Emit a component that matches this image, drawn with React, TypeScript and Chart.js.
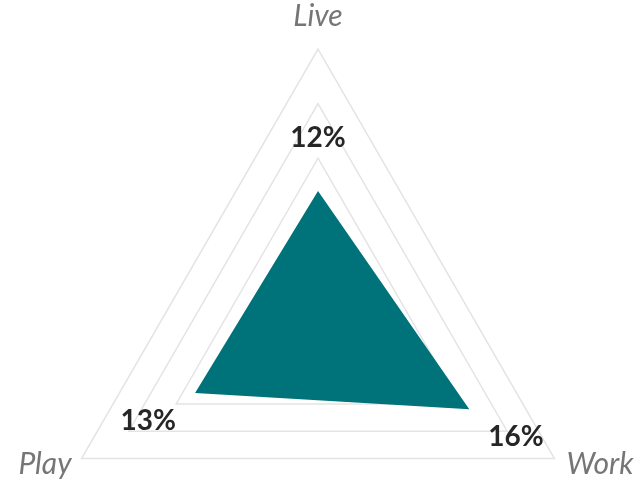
import { useEffect, useRef } from 'react';
import { Chart, registerables } from 'chart.js';

Chart.register(...registerables);

// axes go clockwise from the top
const categories = ['Live', 'Work', 'Play'];
const shares = [12, 16, 13];
const scaleMax = 25;
const scaleStep = 5;

const FILL = '#00737a';
const GRID = '#e4e4e4';

// draws the % labels past each point and the axis names past each corner
const radarLabels = {
    id: 'radarLabels',
    afterDatasetsDraw(chart: any) {
        const scale = chart.scales.r;
        const ctx = chart.ctx as CanvasRenderingContext2D;
        ctx.save();

        ctx.font = 'bold 28px Lato';
        ctx.fillStyle = '#262626';
        ctx.textAlign = 'center';
        ctx.textBaseline = 'alphabetic';
        shares.forEach((v, i) => {
            const p = scale.getPointPosition(i, scale.getDistanceFromCenterForValue(v) + 54);
            ctx.fillText(`${v}%`, p.x, p.y + 10);
        });

        ctx.font = 'italic 30px Lato';
        ctx.fillStyle = '#767676';
        const offsets = [
            { dx: 0, dy: -23, align: 'center' },
            { dx: 12, dy: 15, align: 'left' },
            { dx: -10, dy: 15, align: 'right' },
        ];
        categories.forEach((name, i) => {
            const p = scale.getPointPosition(i, scale.drawingArea);
            const o = offsets[i];
            ctx.textAlign = o.align as CanvasTextAlign;
            ctx.fillText(name, p.x + o.dx, p.y + o.dy);
        });

        ctx.restore();
    },
};

const ShareRadar = () => {
    const chartRef = useRef<HTMLCanvasElement | null>(null);
    const chartInstanceRef = useRef<Chart | null>(null);

    useEffect(() => {
        if (chartRef.current) {
            if (chartInstanceRef.current) {
                chartInstanceRef.current.destroy();
            }

            chartInstanceRef.current = new Chart(chartRef.current, {
                type: 'radar',
                data: {
                    labels: categories,
                    datasets: [
                        {
                            label: 'Share',
                            data: shares,
                            backgroundColor: FILL,
                            borderWidth: 0,
                            pointRadius: 0,
                            fill: true,
                        },
                    ],
                },
                options: {
                    responsive: false,
                    animation: false,
                    layout: {
                        padding: { left: 45, right: 49, top: 49, bottom: 5 },
                    },
                    plugins: {
                        legend: { display: false },
                        tooltip: { enabled: false },
                    },
                    scales: {
                        r: {
                            min: 0,
                            max: scaleMax,
                            ticks: { display: false, stepSize: scaleStep },
                            grid: { color: GRID, lineWidth: 1.5 },
                            angleLines: { display: false },
                            pointLabels: { display: false },
                        },
                    },
                },
                plugins: [radarLabels],
            });
        }

        return () => {
            if (chartInstanceRef.current) {
                chartInstanceRef.current.destroy();
                chartInstanceRef.current = null;
            }
        };
    }, []);

    return <canvas ref={chartRef} width={640} height={600}></canvas>;
};

export default function App() {
    return (
        <div style={{ position: 'fixed', left: 0, top: 0, width: 640, height: 479, overflow: 'hidden', background: '#fff' }}>
            <ShareRadar />
        </div>
    );
}
